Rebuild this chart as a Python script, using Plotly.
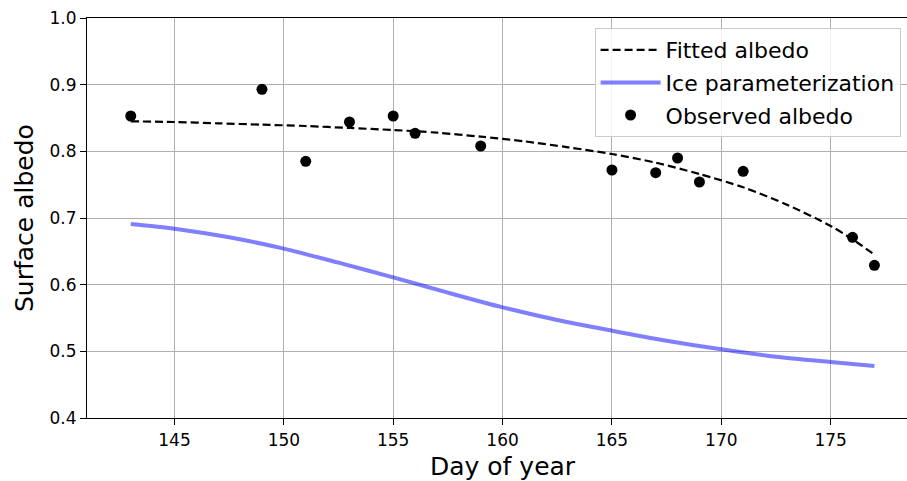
import plotly.graph_objects as go

# Observed albedo
obs_days = [143, 149, 151, 153, 155, 156, 159, 165, 167, 168, 169, 171, 176, 177]
obs_albedo = [0.853, 0.893, 0.785, 0.844, 0.853, 0.827, 0.808, 0.772, 0.768, 0.790, 0.754, 0.770, 0.671, 0.629]

# Fitted albedo curve
fit_days = [143, 145, 147, 149, 151, 153, 155, 157, 159, 161, 163, 165, 167, 169, 171, 173, 175, 176, 177]
fit_albedo = [0.845, 0.844, 0.842, 0.840, 0.838, 0.835, 0.832, 0.828, 0.822, 0.815, 0.806, 0.796, 0.783, 0.766,
              0.746, 0.720, 0.688, 0.668, 0.645]

# Ice parameterization curve
ice_days = [143, 145, 147.5, 150, 152.5, 155, 157.5, 160, 162.5, 165, 167.5, 170, 172.5, 175, 177]
ice_albedo = [0.691, 0.684, 0.671, 0.654, 0.633, 0.611, 0.588, 0.566, 0.547, 0.531, 0.516, 0.503, 0.492, 0.484, 0.478]

x_ticks = [145, 150, 155, 160, 165, 170, 175]
y_ticks = [0.4, 0.5, 0.6, 0.7, 0.8, 0.9, 1.0]

FONT = "DejaVu Sans"

fig = go.Figure()
fig.add_trace(go.Scatter(
    x=fit_days, y=fit_albedo, mode="lines", name="Fitted albedo",
    line=dict(color="black", width=2.2, dash="8px,4px", shape="spline", smoothing=0.8),
    legendgroup="a",
))
fig.add_trace(go.Scatter(
    x=ice_days, y=ice_albedo, mode="lines", name="Ice parameterization",
    line=dict(color="rgba(0,0,255,0.5)", width=4, shape="spline", smoothing=0.8),
    legendgroup="b",
))
fig.add_trace(go.Scatter(
    x=obs_days, y=obs_albedo, mode="markers", name="Observed albedo",
    marker=dict(color="black", size=11),
    legendgroup="c",
))

fig.update_layout(
    width=907, height=481,
    margin=dict(l=87, r=0, t=18, b=63),
    paper_bgcolor="white", plot_bgcolor="white",
    font=dict(family=FONT, color="black", size=17),
    showlegend=True,
    legend=dict(
        x=0.619, y=0.975, xanchor="left", yanchor="top",
        bgcolor="rgba(255,255,255,0.85)", bordercolor="#cccccc", borderwidth=1,
        font=dict(family=FONT, size=22, color="black"),
        traceorder="grouped", tracegroupgap=1, itemwidth=60,
    ),
    xaxis=dict(
        range=[141, 178.49], tickvals=x_ticks, ticktext=[str(t) for t in x_ticks],
        showgrid=True, gridcolor="#b0b0b0", gridwidth=1,
        showline=True, linecolor="black", linewidth=1.2, mirror=True,
        ticks="outside", ticklen=6, tickcolor="black", tickwidth=1,
        tickfont=dict(family=FONT, size=17), zeroline=False,
    ),
    yaxis=dict(
        range=[0.4, 1.0], tickvals=y_ticks, tickformat=".1f",
        showgrid=True, gridcolor="#b0b0b0", gridwidth=1,
        showline=True, linecolor="black", linewidth=1.2,
        ticks="outside", ticklen=6, tickcolor="black", tickwidth=1,
        tickfont=dict(family=FONT, size=17), zeroline=False,
    ),
    annotations=[
        dict(text="Day of year", xref="x", yref="paper", x=160, y=-0.12,
             xanchor="center", yanchor="middle", showarrow=False,
             font=dict(family=FONT, size=25, color="black")),
        dict(text="Surface albedo", xref="paper", yref="paper", x=-0.0768, y=0.5,
             xanchor="center", yanchor="middle", showarrow=False, textangle=-90,
             font=dict(family=FONT, size=25, color="black")),
    ],
)

fig.write_html(
    "out.html",
    config={"displayModeBar": False},
    post_script="document.body.style.margin='0px';document.body.style.overflow='hidden';",
)
